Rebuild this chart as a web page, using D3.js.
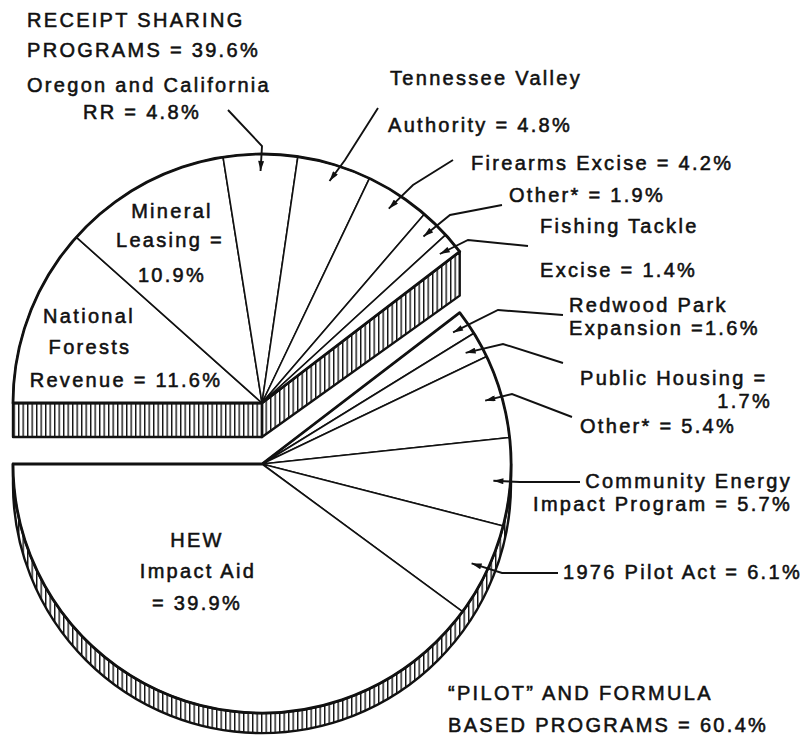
<!DOCTYPE html>
<html>
<head>
<meta charset="utf-8">
<script src="https://cdn.jsdelivr.net/npm/d3@7"></script>
<style>
  body { margin: 0; background: #fff; }
  text { font-family: "Liberation Sans", Arial, sans-serif; font-size: 20px; letter-spacing: 2.3px; fill: #111; stroke: #111; stroke-width: 0.55px; }
</style>
</head>
<body>
<svg id="chart" width="811" height="741"></svg>
<script>
// values (percent of total payments)
const categories = [
    'National Forests Revenue', 'Mineral Leasing', 'Oregon and California RR',
    'Tennessee Valley Authority', 'Firearms Excise', 'Other*', 'Fishing Tackle Excise',
    'Redwood Park Expansion', 'Public Housing', 'Other*', 'Community Energy Impact Program',
    '1976 Pilot Act', 'HEW Impact Aid'
];
const shares = [11.6, 10.9, 4.8, 4.8, 4.2, 1.9, 1.4, 1.6, 1.7, 5.4, 5.7, 6.1, 39.9];
const groupOf = ['receipt', 'receipt', 'receipt', 'receipt', 'receipt', 'receipt', 'receipt',
                 'pilot', 'pilot', 'pilot', 'pilot', 'pilot', 'pilot'];
const labelLines = [
    ['National', 'Forests', 'Revenue = 11.6%'],
    ['Mineral', 'Leasing =', '10.9%'],
    ['Oregon and California', 'RR = 4.8%'],
    ['Tennessee Valley', 'Authority = 4.8%'],
    ['Firearms Excise = 4.2%'],
    ['Other* = 1.9%'],
    ['Fishing Tackle', 'Excise = 1.4%'],
    ['Redwood Park', 'Expansion =1.6%'],
    ['Public Housing =', '1.7%'],
    ['Other* = 5.4%'],
    ['Community Energy', 'Impact Program = 5.7%'],
    ['1976 Pilot Act = 6.1%'],
    ['HEW', 'Impact Aid', '= 39.9%']
];
const groupTitles = {
    receipt: ['RECEIPT SHARING', 'PROGRAMS = 39.6%'],
    pilot: ['\u201CPILOT\u201D AND FORMULA', 'BASED PROGRAMS = 60.4%']
};

// layout
const R = 249;
const centers = { receipt: [262, 403], pilot: [262, 464] };
const depthUpper = 34, depthUpperEnd = 44, depthLower = 20;
const tipR = 232;

// label placement: one [x, baseline, anchor] per line, plus leader start/elbow
const labelPos = [
    { at: [[89, 323, 'middle'], [90, 354, 'middle'], [126, 387, 'middle']] },
    { at: [[172, 218, 'middle'], [170, 247, 'middle'], [172, 282, 'middle']] },
    { at: [[27, 92, 'start'], [83, 119, 'start']], leader: [[228, 110], [262, 146]] },
    { at: [[390, 85, 'start'], [388, 132, 'start']], leader: [[378, 108], [345, 160]] },
    { at: [[471, 170, 'start']], leader: [[453, 160], [413, 185]] },
    { at: [[509, 202, 'start']], leader: [[502, 205], [450, 215]] },
    { at: [[540, 233, 'start'], [540, 277, 'start']], leader: [[528, 246], [468, 240]] },
    { at: [[569, 312, 'start'], [569, 335, 'start']], leader: [[563, 315], [498, 310]] },
    { at: [[580, 385, 'start'], [772, 408, 'end']], leader: [[563, 363], [503, 344]] },
    { at: [[580, 433, 'start']], leader: [[572, 417], [512, 394]] },
    { at: [[792, 488, 'end'], [792, 511, 'end']], leader: [[580, 482], [520, 482]] },
    { at: [[563, 579, 'start']], leader: [[558, 573], [502, 573]] },
    { at: [[197, 547, 'middle'], [198, 578, 'middle'], [197, 610, 'middle']] }
];
const titlePos = {
    receipt: [[27, 27], [27, 57]],
    pilot: [[448, 700], [448, 732]]
};

const svg = d3.select('#chart');
const defs = svg.append('defs');

// vertical hatching for the rim
defs.append('pattern')
    .attr('id', 'hatch')
    .attr('patternUnits', 'userSpaceOnUse')
    .attr('width', 4.5)
    .attr('height', 10)
  .append('rect')
    .attr('x', 0).attr('y', 0)
    .attr('width', 1.4).attr('height', 10)
    .attr('fill', '#111');

defs.append('marker')
    .attr('id', 'arrow')
    .attr('viewBox', '0 0 10 6')
    .attr('refX', 10).attr('refY', 3)
    .attr('markerWidth', 11).attr('markerHeight', 6)
    .attr('markerUnits', 'userSpaceOnUse')
    .attr('orient', 'auto')
  .append('path')
    .attr('d', 'M0,0 L10,3 L0,6 Z')
    .attr('fill', '#111');

const pie = d3.pie()
    .sort(null)
    .value(d => d)
    .startAngle(-Math.PI / 2)
    .endAngle(3 * Math.PI / 2);
const arcs = pie(shares);
arcs.forEach((a, i) => { a.group = groupOf[i]; a.index = i; });

const arcGen = d3.arc().innerRadius(0).outerRadius(R);
const tipArc = d3.arc().innerRadius(tipR).outerRadius(tipR);

// screen point on the rim at d3 angle a
function rimPoint(c, a, r) {
    return [c[0] + r * Math.sin(a), c[1] - r * Math.cos(a)];
}

// --- lower group rim (visible front half) ---
{
    const c = centers.pilot;
    const p = d3.path();
    p.moveTo(c[0] - R, c[1]);
    p.lineTo(c[0] - R, c[1] + depthLower);
    p.arc(c[0], c[1] + depthLower, R, Math.PI, 0, true);
    p.lineTo(c[0] + R, c[1]);
    p.arc(c[0], c[1], R, 0, Math.PI, false);
    p.closePath();
    svg.append('path')
        .attr('d', p.toString())
        .attr('fill', 'url(#hatch)')
        .attr('stroke', '#111')
        .attr('stroke-width', 2.4)
        .attr('stroke-linejoin', 'round');
}

// --- upper group rim: the two cut faces ---
{
    const c = centers.receipt;
    const grp = arcs.filter(a => a.group === 'receipt');
    const a0 = grp[0].startAngle, a1 = grp[grp.length - 1].endAngle;
    const left = rimPoint(c, a0, R), right = rimPoint(c, a1, R);
    const faces = [
        [left, c, [c[0], c[1] + depthUpper], [left[0], left[1] + depthUpper]],
        [c, right, [right[0], right[1] + depthUpperEnd], [c[0], c[1] + depthUpper]]
    ];
    svg.selectAll('.face')
        .data(faces)
        .join('path')
        .attr('class', 'face')
        .attr('d', d => d3.line()(d) + 'Z')
        .attr('fill', 'url(#hatch)')
        .attr('stroke', '#111')
        .attr('stroke-width', 2.4)
        .attr('stroke-linejoin', 'round');
}

// --- top faces ---
['pilot', 'receipt'].forEach(g => {
    const c = centers[g];
    const grp = arcs.filter(a => a.group === g);
    const layer = svg.append('g').attr('transform', `translate(${c[0]},${c[1]})`);

    layer.selectAll('.slice')
        .data(grp)
        .join('path')
        .attr('class', 'slice')
        .attr('d', arcGen)
        .attr('fill', '#fff')
        .attr('stroke', '#111')
        .attr('stroke-width', 1.6)
        .attr('stroke-linejoin', 'round');

    // heavier outline of the whole group wedge
    layer.append('path')
        .attr('d', arcGen({ startAngle: grp[0].startAngle, endAngle: grp[grp.length - 1].endAngle }))
        .attr('fill', 'none')
        .attr('stroke', '#111')
        .attr('stroke-width', 2.8)
        .attr('stroke-linejoin', 'round');
});

// --- leaders with arrowheads ---
const leaderData = arcs.filter(a => labelPos[a.index].leader);
svg.selectAll('.leader')
    .data(leaderData)
    .join('path')
    .attr('class', 'leader')
    .attr('d', a => {
        const c = centers[a.group];
        const t = tipArc.centroid(a);
        const pts = labelPos[a.index].leader.concat([[c[0] + t[0], c[1] + t[1]]]);
        return d3.line()(pts);
    })
    .attr('fill', 'none')
    .attr('stroke', '#111')
    .attr('stroke-width', 1.9)
    .attr('marker-end', 'url(#arrow)');

// --- labels ---
arcs.forEach(a => {
    labelLines[a.index].forEach((line, k) => {
        const [x, y, anchor] = labelPos[a.index].at[k];
        svg.append('text')
            .attr('x', x)
            .attr('y', y)
            .attr('text-anchor', anchor)
            .text(line);
    });
});

Object.keys(groupTitles).forEach(g => {
    groupTitles[g].forEach((line, k) => {
        svg.append('text')
            .attr('x', titlePos[g][k][0])
            .attr('y', titlePos[g][k][1])
            .text(line);
    });
});
</script>
</body>
</html>
